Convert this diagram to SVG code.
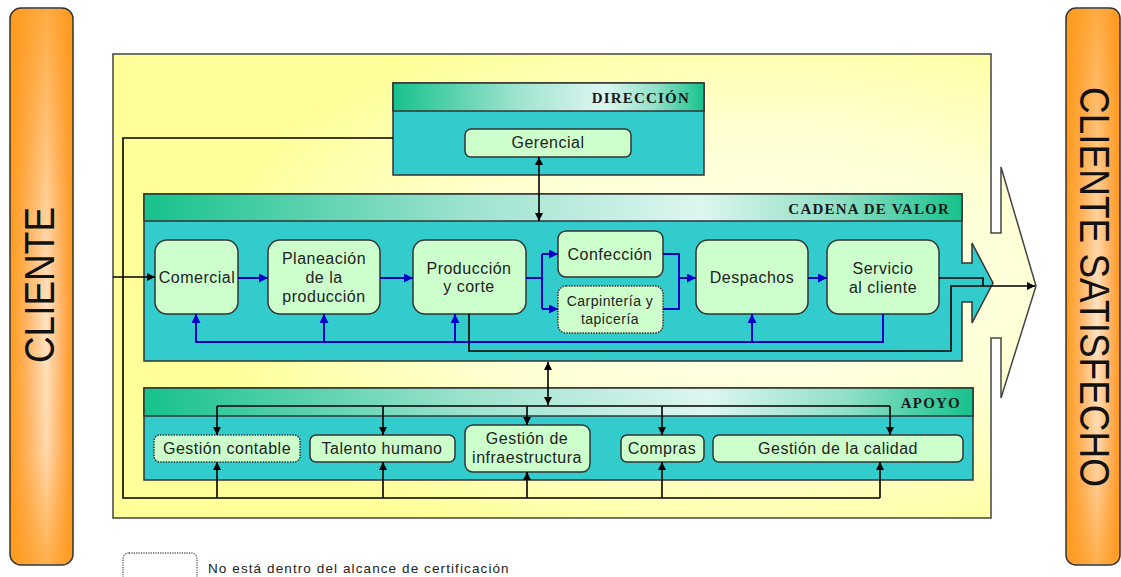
<svg xmlns="http://www.w3.org/2000/svg" width="1121" height="577" viewBox="0 0 1121 577">
  <defs>
    <linearGradient id="orangeH" x1="0" y1="0" x2="1" y2="0">
      <stop offset="0" stop-color="#FF9A1A"/>
      <stop offset="0.3" stop-color="#FFB96E"/>
      <stop offset="0.58" stop-color="#FFE4C6"/>
      <stop offset="0.82" stop-color="#FFB468"/>
      <stop offset="1" stop-color="#FF981A"/>
    </linearGradient>
    <linearGradient id="orangeV" x1="0" y1="0" x2="0" y2="1">
      <stop offset="0" stop-color="#FF9A1A" stop-opacity="0.75"/>
      <stop offset="0.55" stop-color="#FF9A1A" stop-opacity="0"/>
      <stop offset="0.8" stop-color="#FF9A1A" stop-opacity="0.15"/>
      <stop offset="1" stop-color="#FF9A1A" stop-opacity="0.7"/>
    </linearGradient>
    <radialGradient id="yellowBg" cx="0.7" cy="0.5" r="0.62">
      <stop offset="0" stop-color="#FFFFF3"/>
      <stop offset="0.55" stop-color="#FFFFD2"/>
      <stop offset="1" stop-color="#FFFF99"/>
    </radialGradient>
    <linearGradient id="header" x1="0" y1="0" x2="1" y2="0">
      <stop offset="0" stop-color="#16C28C"/>
      <stop offset="0.4" stop-color="#9FE3CF"/>
      <stop offset="0.68" stop-color="#DDF6F0"/>
      <stop offset="0.85" stop-color="#8EDFC6"/>
      <stop offset="1" stop-color="#16C28C"/>
    </linearGradient>
    <marker id="ak" viewBox="0 0 10 10" refX="10" refY="5" markerWidth="8" markerHeight="8" markerUnits="userSpaceOnUse" orient="auto-start-reverse">
      <path d="M0,0 L10,5 L0,10 Z" fill="#000"/>
    </marker>
    <marker id="ab" viewBox="0 0 10 10" refX="10" refY="5" markerWidth="9" markerHeight="9" markerUnits="userSpaceOnUse" orient="auto-start-reverse">
      <path d="M0,0 L10,5 L0,10 Z" fill="#0000CC"/>
    </marker>
  </defs>
  <style>
    .bar { stroke:#333; stroke-width:1.5; }
    .big { font-family:"Liberation Sans",Arial,sans-serif; font-size:37px; fill:#111; text-anchor:middle; }
    .frame { fill:url(#yellowBg); stroke:#444; stroke-width:1.5; }
    .body { fill:#33CCCC; stroke:#333; stroke-width:1.5; }
    .hdr { fill:url(#header); stroke:#333; stroke-width:1.5; }
    .node { fill:#CCFFCC; stroke:#333; stroke-width:1.5; }
    .dot { stroke-dasharray:1.5 1.2; }
    .n { font-family:"Liberation Sans",Arial,sans-serif; font-size:16px; letter-spacing:0.5px; fill:#222; text-anchor:middle; }
    .s { font-size:14px; }
    .h { font-family:"Liberation Serif","Times New Roman",serif; font-weight:bold; font-size:15px; letter-spacing:1.2px; fill:#1a1a1a; text-anchor:end; }
    .k { fill:none; stroke:#000; stroke-width:1.6; }
    .b { fill:none; stroke:#0000CC; stroke-width:2; }
    .legend { font-family:"Liberation Sans",Arial,sans-serif; font-size:13.5px; letter-spacing:1.1px; fill:#222; }
  </style>

  <!-- customer bars -->
  <g id="cliente">
    <rect class="bar" x="10" y="8" width="63" height="557" rx="11" fill="url(#orangeH)"/>
    <rect x="11" y="9" width="61" height="555" rx="10" fill="url(#orangeV)"/>
    <text class="big" transform="translate(54,285) scale(1.15,1) rotate(-90)">CLIENTE</text>
  </g>
  <g id="cliente-satisfecho">
    <rect class="bar" x="1066" y="8" width="54" height="557" rx="10" fill="url(#orangeH)"/>
    <rect x="1067" y="9" width="52" height="555" rx="9" fill="url(#orangeV)"/>
    <text class="big" transform="translate(1080,287) scale(1.15,1) rotate(90)">CLIENTE SATISFECHO</text>
  </g>

  <!-- process frame with outgoing arrow -->
  <g id="marco">
    <path class="frame" d="M113,54 H991 V233 H1001 V167 L1036,286 L1001,398 V338 H991 V518 H113 Z"/>
  </g>

  <!-- management -->
  <g id="direccion">
    <rect class="body" x="393" y="83" width="311" height="92"/>
    <rect class="hdr" x="393" y="83" width="311" height="28"/>
    <text class="h" x="690" y="103">DIRECCIÓN</text>
  </g>
  <g id="gerencial">
    <rect class="node" x="465" y="129" width="166" height="28" rx="6"/>
    <text class="n" x="548" y="148">Gerencial</text>
  </g>

  <!-- value chain -->
  <g id="cadena-de-valor">
    <path class="body" d="M144,194 H962 V263 H972 V243 L993,283 L972,323 V302 H962 V361 H144 Z"/>
    <rect class="hdr" x="144" y="194" width="818" height="27"/>
    <text class="h" x="950" y="214">CADENA DE VALOR</text>
  </g>
  <g id="comercial">
    <rect class="node" x="155" y="240" width="83" height="74" rx="12"/>
    <text class="n" x="197" y="283">Comercial</text>
  </g>
  <g id="planeacion">
    <rect class="node" x="268" y="240" width="112" height="74" rx="12"/>
    <text class="n" x="324" y="264">Planeación</text>
    <text class="n" x="324" y="283">de la</text>
    <text class="n" x="324" y="302">producción</text>
  </g>
  <g id="produccion">
    <rect class="node" x="413" y="240" width="113" height="74" rx="12"/>
    <text class="n" x="469" y="274">Producción</text>
    <text class="n" x="469" y="292">y corte</text>
  </g>
  <g id="confeccion">
    <rect class="node" x="558" y="231" width="105" height="46" rx="8"/>
    <text class="n" x="610" y="260">Confección</text>
  </g>
  <g id="carpinteria">
    <rect class="node dot" x="558" y="286" width="105" height="47" rx="8"/>
    <text class="n s" x="610" y="306">Carpintería y</text>
    <text class="n s" x="610" y="324">tapicería</text>
  </g>
  <g id="despachos">
    <rect class="node" x="696" y="240" width="112" height="74" rx="12"/>
    <text class="n" x="752" y="283">Despachos</text>
  </g>
  <g id="servicio">
    <rect class="node" x="827" y="240" width="112" height="74" rx="12"/>
    <text class="n" x="883" y="274">Servicio</text>
    <text class="n" x="883" y="293">al cliente</text>
  </g>

  <!-- support -->
  <g id="apoyo">
    <rect class="body" x="144" y="388" width="829" height="92"/>
    <rect class="hdr" x="144" y="388" width="829" height="28"/>
    <text class="h" x="961" y="408">APOYO</text>
  </g>
  <g id="gestion-contable">
    <rect class="node dot" x="154" y="435" width="146" height="27" rx="6"/>
    <text class="n" x="227" y="454">Gestión contable</text>
  </g>
  <g id="talento-humano">
    <rect class="node" x="310" y="435" width="145" height="27" rx="6"/>
    <text class="n" x="382" y="454">Talento humano</text>
  </g>
  <g id="infraestructura">
    <rect class="node" x="465" y="425" width="125" height="47" rx="8"/>
    <text class="n" x="527" y="444">Gestión de</text>
    <text class="n" x="527" y="463">infraestructura</text>
  </g>
  <g id="compras">
    <rect class="node" x="621" y="435" width="83" height="27" rx="6"/>
    <text class="n" x="662" y="454">Compras</text>
  </g>
  <g id="calidad">
    <rect class="node" x="713" y="435" width="250" height="27" rx="6"/>
    <text class="n" x="838" y="454">Gestión de la calidad</text>
  </g>

  <!-- connectors -->
  <g id="conectores">
    <!-- black flows -->
    <path class="k" d="M113,277 H155" marker-end="url(#ak)"/>
    <path class="k" d="M393,138 H123 V498 H880"/>
    <path class="k" d="M217,498 V462" marker-end="url(#ak)"/>
    <path class="k" d="M383,498 V462" marker-end="url(#ak)"/>
    <path class="k" d="M527,498 V472" marker-end="url(#ak)"/>
    <path class="k" d="M662,498 V462" marker-end="url(#ak)"/>
    <path class="k" d="M880,498 V462" marker-end="url(#ak)"/>
    <path class="k" d="M539,157 V221" marker-start="url(#ak)" marker-end="url(#ak)"/>
    <path class="k" d="M548,362 V405" marker-start="url(#ak)" marker-end="url(#ak)"/>
    <path class="k" d="M217,406 H890"/>
    <path class="k" d="M217,406 V435" marker-end="url(#ak)"/>
    <path class="k" d="M383,406 V435" marker-end="url(#ak)"/>
    <path class="k" d="M527,406 V425" marker-end="url(#ak)"/>
    <path class="k" d="M662,406 V435" marker-end="url(#ak)"/>
    <path class="k" d="M890,406 V435" marker-end="url(#ak)"/>
    <path class="k" d="M469,314 V351 H951 V286 H1035" marker-end="url(#ak)"/>
    <path class="k" d="M939,278 H983 V286"/>
    <!-- blue flows -->
    <path class="b" d="M238,278 H268" marker-end="url(#ab)"/>
    <path class="b" d="M380,278 H413" marker-end="url(#ab)"/>
    <path class="b" d="M526,278 H542 M542,254 V309"/>
    <path class="b" d="M542,254 H558" marker-end="url(#ab)"/>
    <path class="b" d="M542,309 H558" marker-end="url(#ab)"/>
    <path class="b" d="M663,254 H679 V309 H663"/>
    <path class="b" d="M679,278 H696" marker-end="url(#ab)"/>
    <path class="b" d="M808,278 H827" marker-end="url(#ab)"/>
    <path class="b" d="M883,314 V342 H196 V314" marker-end="url(#ab)"/>
    <path class="b" d="M324,342 V314" marker-end="url(#ab)"/>
    <path class="b" d="M455,342 V314" marker-end="url(#ab)"/>
    <path class="b" d="M752,342 V314" marker-end="url(#ab)"/>
  </g>

  <!-- legend -->
  <g id="leyenda">
    <rect x="123" y="553" width="74" height="32" rx="6" fill="none" stroke="#555" stroke-width="1.3" stroke-dasharray="1.2 1.2"/>
    <text class="legend" x="208" y="573">No está dentro del alcance de certificación</text>
  </g>
</svg>
